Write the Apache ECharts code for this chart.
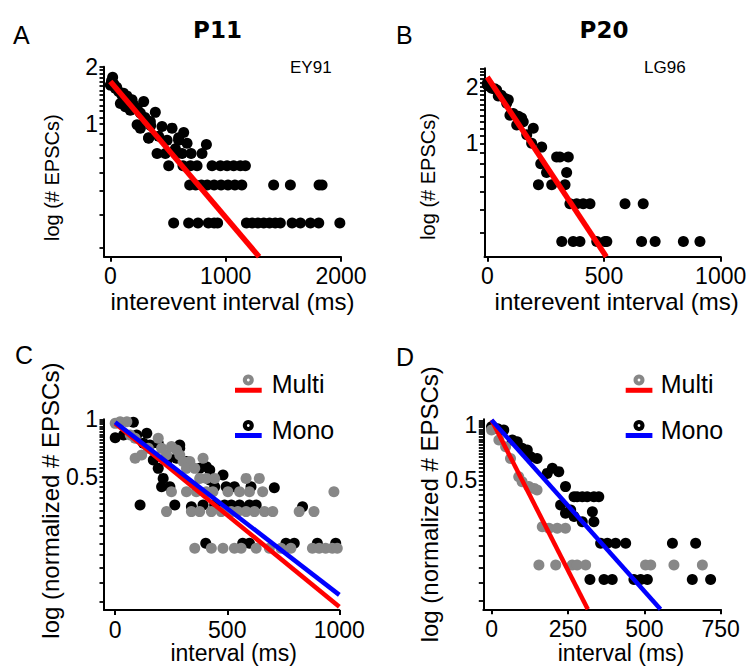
<!DOCTYPE html>
<html><head><meta charset="utf-8">
<script src="https://cdn.jsdelivr.net/npm/echarts@6/dist/echarts.min.js"></script>
<style>html,body{margin:0;padding:0;background:#fff}#c{width:748px;height:667px}</style>
</head><body><div id="c"></div>
<script>
const FONT = "'Liberation Sans', Arial, sans-serif";

// ---------- Panel A (P11, cell EY91): interevent interval (ms) vs log(#EPSCs) ----------
const aPoints = [[20,1.76],[0,1.6],[10,1.68],[43,1.54],[30,1.62],[72,1.48],[55,1.56],[115,1.45],[145,1.4],[100,1.42],[188,1.34],[87,1.28],[130,1.23],[173,1.18],[202,1.26],[232,1.21],[289,1.31],[260,1.14],[160,1.3],[210,1.2],[390,1.15],[300,1.08],[232,0.99],[260,0.95],[347,1.03],[350,0.98],[448,0.97],[535,0.95],[332,0.84],[419,0.86],[492,0.82],[592,0.82],[636,0.9],[665,0.79],[564,0.74],[833,0.78],[332,0.845],[592,0.845],
  [405,0.699],[477,0.699],[578,0.699],[622,0.699],[700,0.699],[795,0.699],
  [506,0.602],[630,0.602],[694,0.602],[752,0.602],[882,0.602],[954,0.602],[1012,0.602],[1069,0.602],[1127,0.602],[1171,0.602],
  [688,0.477],[740,0.477],[790,0.477],[840,0.477],[900,0.477],[960,0.477],[1020,0.477],[1080,0.477],[1140,0.477],[1416,0.477],[1561,0.477],[1810,0.477],[1836,0.477],
  [549,0.301],[679,0.301],[760,0.301],[850,0.301],[900,0.301],[930,0.301],[1180,0.301],[1230,0.301],[1280,0.301],[1330,0.301],[1380,0.301],[1430,0.301],[1474,0.301],[1576,0.301],[1648,0.301],[1735,0.301],[1807,0.301],[1990,0.301]];
const aFit = [[0,1.67],[1290,0.2]];
const aXTicks = [0,1000,2000];
const aYLabels = [1,2];
const aYTicks = [0.222,0.333,0.444,0.556,0.667,0.778,0.889,1,1.083,1.167,1.25,1.333,1.417,1.5,1.583,1.667,1.75,1.833,1.917,2];

// ---------- Panel B (P20, cell LG96) ----------
const bPoints = [[0,2.08],[0,2.04],[10,2.0],[19,1.96],[30,1.95],[40,1.92],[47,1.78],[60,1.8],[76,1.73],[90,1.7],[83,1.63],[97,1.41],[111,1.44],[133,1.39],[147,1.36],[154,1.3],[126,1.25],[197,1.2],[169,1.11],[190,1.0],[233,0.954],[229,0.778],
  [297,0.845],[311,0.845],[347,0.845],[254,0.699],[340,0.699],[219,0.602],[276,0.602],[333,0.602],
  [354,0.477],[383,0.477],[411,0.477],[440,0.477],[590,0.477],[668,0.477],
  [319,0.301],[368,0.301],[397,0.301],[469,0.301],[504,0.301],[512,0.301],[661,0.301],[719,0.301],[840,0.301],[911,0.301]];
const bFit = [[0,2.25],[510,0.25]];
const bXTicks = [0,500,1000];
const bYLabels = [1,2];
const bYTicks = [0.333,0.444,0.556,0.667,0.778,0.889,1,1.1,1.2,1.3,1.4,1.5,1.6,1.7,1.8,1.9,2,2.1,2.2,2.3,2.4,2.5];

// ---------- Panel C (P11 normalized, Multi vs Mono) ----------
const cMonoPoints = [[0,0.801],[37,0.827],[81,0.964],[96,0.827],[141,0.844],[126,0.748],[155,0.733],[192,0.748],[288,0.733],[288,0.704],[237,0.624],[274,0.624],[170,0.612],[192,0.553],[214,0.49],[207,0.443],[244,0.443],[318,0.6],[407,0.564],[377,0.553],[422,0.542],[422,0.48],[481,0.51],[444,0.443],[495,0.443],[532,0.443],[606,0.443],[710,0.438],
  [111,0.355],[266,0.355],[340,0.348],[392,0.355],[444,0.355],[488,0.355],[518,0.355],[555,0.355],[599,0.355],[629,0.355],[836,0.348],
  [404,0.224],[569,0.224],[599,0.224],[762,0.224],[799,0.224],[902,0.224],[984,0.224]];
const cMultiPoints = [[0,0.952],[22,0.972],[52,0.972],[67,0.827],[89,0.795],[89,0.624],[118,0.65],[148,0.704],[192,0.795],[207,0.704],[229,0.65],[251,0.719],[274,0.69],[288,0.65],[303,0.6],[333,0.6],[318,0.553],[355,0.553],[392,0.624],
  [377,0.49],[407,0.49],[444,0.49],[584,0.49],[643,0.49],
  [251,0.417],[318,0.417],[362,0.417],[407,0.417],[436,0.417],[503,0.417],[555,0.417],[599,0.417],[658,0.417],[976,0.417],
  [229,0.328],[340,0.328],[377,0.328],[429,0.328],[473,0.328],[518,0.328],[547,0.328],[584,0.328],[621,0.328],[666,0.328],[703,0.328],[821,0.328],[887,0.328],
  [355,0.211],[429,0.211],[481,0.211],[532,0.211],[562,0.211],[629,0.211],[688,0.211],[740,0.211],[784,0.211],[880,0.211],[910,0.211],[939,0.211],[969,0.211],[991,0.211]];
const cMultiFit = [[0,0.95],[1000,0.104]];
const cMonoFit = [[0,0.965],[1000,0.12]];
const cXTicks = [0,500,1000];
const cYLabels = [0.5,1];
const normTicks = [0.111,0.139,0.167,0.194,0.222,0.25,0.278,0.306,0.333,0.361,0.389,0.417,0.444,0.472,0.5,0.528,0.556,0.583,0.611,0.639,0.667,0.694,0.722,0.75,0.778,0.806,0.833,0.861,0.889,0.917,0.944,0.972,1,1.028,1.056];

// ---------- Panel D (P20 normalized, Multi vs Mono) ----------
const dMonoPoints = [[0,0.976],[20,0.95],[40,0.936],[68,0.826],[84,0.809],[100,0.745],[117,0.73],[128,0.671],[149,0.657],[199,0.581],[182,0.545],[220,0.557],[242,0.462],
  [270,0.407],[280,0.407],[297,0.407],[313,0.407],[335,0.407],[351,0.407],
  [226,0.367],[259,0.345],[242,0.331],[270,0.318],[297,0.298],[330,0.338],[335,0.298],
  [357,0.228],[379,0.228],[406,0.228],[439,0.228],[592,0.228],[668,0.228],
  [322,0.145],[368,0.145],[395,0.145],[466,0.145],[488,0.145],[510,0.145],[657,0.145],[717,0.145]];
const dMultiPoints = [[0,0.936],[24,0.826],[46,0.76],[62,0.657],[89,0.523],[100,0.491],[122,0.462],[139,0.452],[149,0.443],
  [166,0.28],[188,0.275],[215,0.275],[242,0.275],
  [155,0.174],[210,0.174],[264,0.174],[280,0.174],[308,0.174],[504,0.174],[521,0.174],[597,0.174],[690,0.174]];
const dMultiFit = [[0,1.06],[315,0.1]];
const dMonoFit = [[0,1.06],[553,0.1]];
const dXTicks = [0,250,500,750];
const dYLabels = [0.5,1];

const GRAY = '#878787';
const plain = v => String(+v.toFixed(3));

function xAxis(gi, min, max, ticks, name, gap, shift, fs) {
  return {
    type: 'value', gridIndex: gi, min: min, max: max,
    axisLine: { show: true, onZero: false, lineStyle: { color: '#000', width: 2 } },
    axisTick: { show: true, customValues: ticks, length: 5, lineStyle: { color: '#000', width: 2 } },
    axisLabel: { show: true, customValues: ticks, formatter: plain, margin: 8, color: '#000', fontSize: 23, fontFamily: FONT },
    splitLine: { show: false },
    name: name, nameLocation: 'middle', nameGap: gap,
    nameTextStyle: { color: '#000', fontSize: fs, fontFamily: FONT, padding: shift > 0 ? [0, 0, 0, 2 * shift] : [0, -2 * shift, 0, 0] }
  };
}
function yAxis(gi, min, max, labels, ticks, name, gap, shift, fs) {
  return {
    type: 'log', logBase: 10, gridIndex: gi, min: min, max: max,
    axisLine: { show: true, onZero: false, lineStyle: { color: '#000', width: 2 } },
    axisTick: { show: true, customValues: ticks, length: 4.5, lineStyle: { color: '#000', width: 1.8 } },
    axisLabel: { show: true, customValues: labels, formatter: plain, margin: 6, color: '#000', fontSize: 23, fontFamily: FONT },
    splitLine: { show: false }, minorTick: { show: false },
    name: name, nameLocation: 'middle', nameGap: gap, nameRotate: 90,
    nameTextStyle: { color: '#000', fontSize: fs, fontFamily: FONT, padding: shift > 0 ? [0, 2 * shift, 0, 0] : [0, 0, 0, -2 * shift] }
  };
}
function dots(xi, data, color, z) {
  return { type: 'scatter', xAxisIndex: xi, yAxisIndex: xi, data: data, symbol: 'circle', symbolSize: 11,
    itemStyle: { color: color, opacity: 1, borderWidth: 0 }, z: z, silent: true };
}
function fit(xi, data, color, w, z) {
  return { type: 'line', xAxisIndex: xi, yAxisIndex: xi, data: data, symbol: 'none', showSymbol: false,
    lineStyle: { color: color, width: w, cap: 'butt' }, z: z, silent: true };
}
function txt(text, x, y, size, opts) {
  return { type: 'text', style: { text: text, x: x, y: y, fill: '#000',
    font: (opts && opts.bold ? 'bold ' : '') + size + 'px ' + (opts && opts.family ? opts.family : FONT),
    textAlign: (opts && opts.align) || 'left', textVerticalAlign: 'middle' } };
}
function legendItem(cx, cy, dotColor, lineColor, label, lineY, textX) {
  return [
    { type: 'circle', shape: { cx: cx, cy: cy, r: 5.5 }, style: { fill: dotColor } },
    { type: 'circle', shape: { cx: cx, cy: cy, r: 1.4 }, style: { fill: '#fff' } },
    { type: 'rect', shape: { x: cx - 13.3, y: lineY - 2.5, width: 26.7, height: 5 }, style: { fill: lineColor } },
    txt(label, textX, cy + 4, 25)
  ];
}

const chart = echarts.init(document.getElementById('c'), null, { renderer: 'svg', width: 748, height: 667 });
chart.setOption({
  animation: false,
  backgroundColor: '#fff',
  grid: [
    { left: 104, top: 66.7, width: 237, height: 190, containLabel: false, outerBoundsMode: 'none' },
    { left: 484.5, top: 68.3, width: 236.2, height: 188.4, containLabel: false, outerBoundsMode: 'none' },
    { left: 104, top: 419.3, width: 235.3, height: 190.7, containLabel: false, outerBoundsMode: 'none' },
    { left: 483.3, top: 419.3, width: 237.4, height: 190, containLabel: false, outerBoundsMode: 'none' }
  ],
  xAxis: [
    xAxis(0, -55, 2000, aXTicks, 'interevent interval (ms)', 33, 10, 24),
    xAxis(1, -12, 1000, bXTicks, 'interevent interval (ms)', 33, 14, 24),
    xAxis(2, -50, 1000, cXTicks, 'interval (ms)', 31, 12, 23),
    xAxis(3, -27, 750, dXTicks, 'interval (ms)', 29, 19, 23)
  ],
  yAxis: [
    yAxis(0, 0.2, 2, aYLabels, aYTicks, 'log (# EPSCs)', 42, 16, 20),
    yAxis(1, 0.25, 2.5, bYLabels, bYTicks, 'log (# EPSCs)', 47, 14, 20),
    yAxis(2, 0.1, 1, cYLabels, normTicks.filter(v => v <= 1), 'log (normalized # EPSCs)', 39, -14, 24),
    yAxis(3, 0.1, 1.07, dYLabels, normTicks, 'log (normalized # EPSCs)', 37, -10, 24)
  ],
  series: [
    dots(0, aPoints, '#000', 2),
    fit(0, aFit, '#ff0000', 5.5, 5),
    dots(1, bPoints, '#000', 2),
    fit(1, bFit, '#ff0000', 5.5, 5),
    dots(2, cMonoPoints, '#000', 2),
    dots(2, cMultiPoints, GRAY, 3),
    fit(2, cMultiFit, '#ff0000', 4.5, 5),
    fit(2, cMonoFit, '#0000ff', 4.5, 6),
    dots(3, dMonoPoints, '#000', 2),
    dots(3, dMultiPoints, GRAY, 3),
    fit(3, dMultiFit, '#ff0000', 4.5, 5),
    fit(3, dMonoFit, '#0000ff', 4.5, 6)
  ],
  graphic: [
    txt('A', 13, 35, 25),
    txt('B', 396, 35, 25),
    txt('C', 15, 355, 25),
    txt('D', 396, 357, 25),
    txt('P11', 217.5, 30, 23, { bold: true, align: 'center', family: "'DejaVu Sans', sans-serif" }),
    txt('P20', 604, 30, 23, { bold: true, align: 'center', family: "'DejaVu Sans', sans-serif" }),
    txt('EY91', 290, 67, 17),
    txt('LG96', 644, 67, 17)
  ].concat(
    legendItem(248.3, 380, GRAY, '#ff0000', 'Multi', 390.3, 271.7),
    legendItem(248.3, 425.5, '#000', '#0000ff', 'Mono', 435.5, 271.7),
    legendItem(639, 380, GRAY, '#ff0000', 'Multi', 390.3, 660.7),
    legendItem(639, 425.5, '#000', '#0000ff', 'Mono', 435.5, 660.7)
  )
});
</script>
</body></html>
